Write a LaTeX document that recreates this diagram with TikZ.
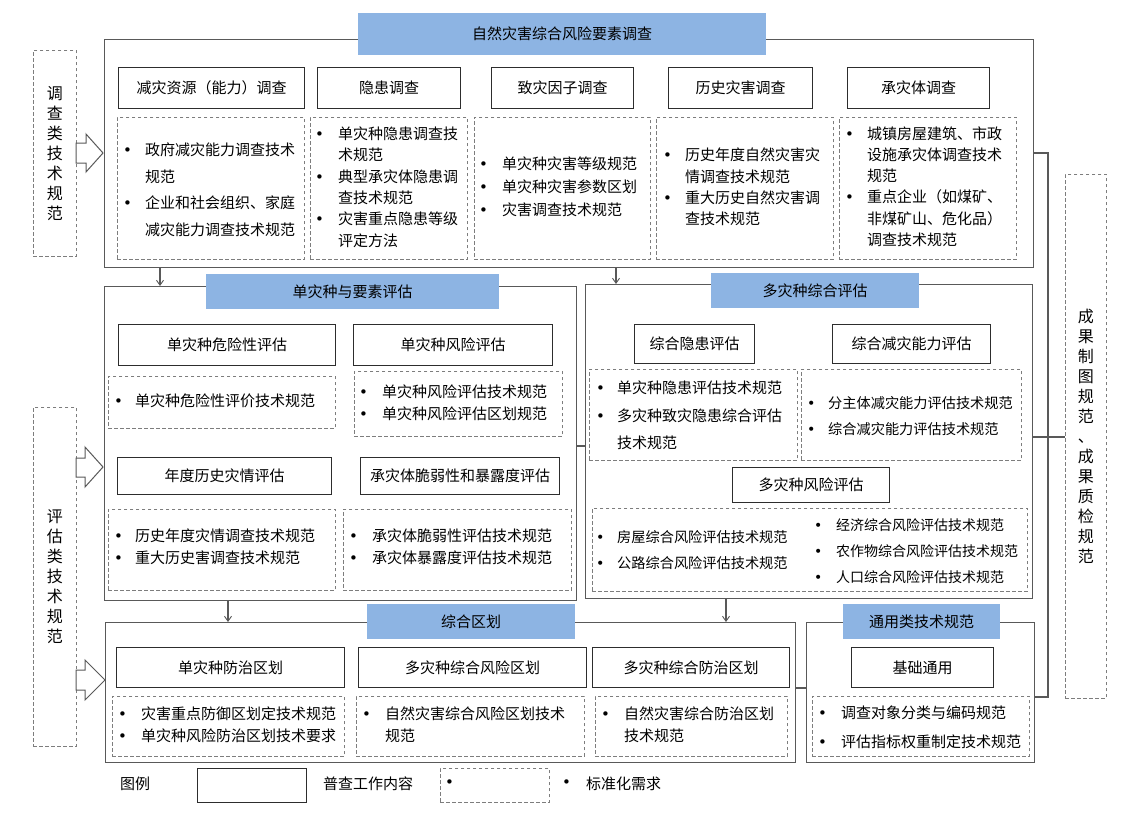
\documentclass[tikz,border=0pt]{standalone}
\usepackage{fontspec}
\setmainfont{Noto Sans CJK SC}
\newfontfamily\bulfont{DejaVu Sans}
\usetikzlibrary{arrows.meta}
\definecolor{hdrblue}{RGB}{141,180,227}
\definecolor{outerc}{RGB}{89,89,89}
\definecolor{workc}{RGB}{45,45,45}
\definecolor{stdc}{RGB}{125,125,125}
\newcommand\rbox[7]{\node[#2,anchor=north west,minimum width=#5-#3,minimum height=#6-#4] (#1) at (#3,#4) {#7};}
\newcommand\lst[7]{\node[lstn,anchor=west,font=\fontsize{#5}{#4}\selectfont] (#1) at (#2,#3) {\begin{tabular}{@{}p{#6}@{}l@{}}#7\end{tabular}};}
\newcommand\bdot{{\bulfont\char"2022}}
\newcommand\bl{\bdot&}
\tikzset{
  outer/.style={draw=outerc,line width=1.2pt,fill=white,inner sep=0pt},
  hdr/.style={fill=hdrblue,draw=none,inner sep=0pt,font=\fontsize{15}{18}\selectfont},
  work/.style={draw=workc,line width=1.2pt,fill=white,inner sep=0pt,font=\fontsize{15}{18}\selectfont},
  std/.style={draw=stdc,line width=0.9pt,dash pattern=on 3.5pt off 2.5pt,inner sep=0pt},
  side/.style={std,align=center,font=\fontsize{16}{20}\selectfont},
  lstn/.style={inner sep=0pt,align=left},
  lbl/.style={inner sep=0pt,font=\fontsize{15}{18}\selectfont},
  conn/.style={draw=outerc,line width=1.1pt},
  arr/.style={conn,-{Straight Barb[length=5pt,width=7pt,line width=0.9pt]}},
  blk/.style={draw=outerc,line width=1pt,fill=white,line join=miter}
}
\begin{document}
\begin{tikzpicture}[x=1pt,y=-1pt]
\useasboundingbox[fill=white] (0,0) rectangle (1142,820);
% coordinates for connectors
\coordinate (xa) at (160,0);
\coordinate (xb) at (616,0);
\coordinate (xc) at (228,0);
\coordinate (xd) at (726,0);
\coordinate (busT) at (1048,153);
\coordinate (busB) at (1048,697);
\coordinate (ym) at (0,437);
\coordinate (ys) at (0,446);
\coordinate (yz) at (0,688);

% ===== top section =====
\rbox{topbox}{outer}{104}{39}{1033}{267}{}
\rbox{tophdr}{hdr}{358}{13}{766}{55}{自然灾害综合风险要素调查}
\rbox{w1}{work}{118}{67}{304}{108}{减灾资源（能力）调查}
\rbox{w2}{work}{317}{67}{460}{108}{隐患调查}
\rbox{w3}{work}{491}{67}{633}{108}{致灾因子调查}
\rbox{w4}{work}{668}{67}{812}{108}{历史灾害调查}
\rbox{w5}{work}{847}{67}{989}{108}{承灾体调查}
\rbox{s1}{std}{117}{117}{304}{259}{}
\rbox{s2}{std}{310}{117}{467}{259}{}
\rbox{s3}{std}{474}{117}{650}{259}{}
\rbox{s4}{std}{656}{117}{833}{259}{}
\rbox{s5}{std}{839}{117}{1016}{259}{}
\lst{l1}{123}{190}{26.5}{15}{22pt}{\bl 政府减灾能力调查技术\\ & 规范\\ \bl 企业和社会组织、家庭\\ & 减灾能力调查技术规范}
\lst{l2}{315}{188.5}{21.4}{15}{23pt}{\bl 单灾种隐患调查技\\ & 术规范\\ \bl 典型承灾体隐患调\\ & 查技术规范\\ \bl 灾害重点隐患等级\\ & 评定方法}
\lst{l3}{479}{188}{23}{15}{23pt}{\bl 单灾种灾害等级规范\\ \bl 单灾种灾害参数区划\\ \bl 灾害调查技术规范}
\lst{l4}{663}{188.5}{21.2}{15}{22pt}{\bl 历史年度自然灾害灾\\ & 情调查技术规范\\ \bl 重大历史自然灾害调\\ & 查技术规范}
\lst{l5}{845}{188}{21.2}{15}{22pt}{\bl 城镇房屋建筑、市政\\ & 设施承灾体调查技术\\ & 规范\\ \bl 重点企业（如煤矿、\\ & 非煤矿山、危化品）\\ & 调查技术规范}

% ===== single hazard section =====
\rbox{sglbox}{outer}{104}{286}{576}{600}{}
\rbox{sglhdr}{hdr}{206}{274}{499}{309}{单灾种与要素评估}
\rbox{w6}{work}{118}{324}{335}{365}{单灾种危险性评估}
\rbox{w7}{work}{353}{324}{552}{365}{单灾种风险评估}
\rbox{s6}{std}{108}{376}{335}{428}{}
\rbox{s7}{std}{354}{371}{562}{436}{}
\rbox{w8}{work}{117}{457}{331}{494}{年度历史灾情评估}
\rbox{w9}{work}{360}{457}{559}{494}{承灾体脆弱性和暴露度评估}
\rbox{s8}{std}{108}{509}{335}{590}{}
\rbox{s9}{std}{343}{509}{571}{590}{}
\lst{l6}{114}{402}{22}{15}{21pt}{\bl 单灾种危险性评价技术规范}
\lst{l7}{359}{404}{22}{15}{23pt}{\bl 单灾种风险评估技术规范\\ \bl 单灾种风险评估区划规范}
\lst{l8}{114}{548}{22}{15}{21pt}{\bl 历史年度灾情调查技术规范\\ \bl 重大历史害调查技术规范}
\lst{l9}{349}{548}{22}{15}{23pt}{\bl 承灾体脆弱性评估技术规范\\ \bl 承灾体暴露度评估技术规范}

% ===== multi hazard section =====
\rbox{mulbox}{outer}{585}{284}{1032}{598}{}
\rbox{mulhdr}{hdr}{711}{273}{919}{308}{多灾种综合评估}
\rbox{w10}{work}{634}{324}{754}{363}{综合隐患评估}
\rbox{w11}{work}{832}{324}{990}{363}{综合减灾能力评估}
\rbox{s10}{std}{589}{369}{797}{460}{}
\rbox{s11}{std}{801}{369}{1021}{460}{}
\rbox{w12}{work}{732}{467}{889}{502}{多灾种风险评估}
\rbox{s12}{std}{592}{508}{1027}{591}{}
\lst{l10}{596}{415.5}{27.5}{15}{21pt}{\bl 单灾种隐患评估技术规范\\ \bl 多灾种致灾隐患综合评估\\ & 技术规范}
\lst{l11}{807}{416}{26}{14.2}{21pt}{\bl 分主体减灾能力评估技术规范\\ \bl 综合减灾能力评估技术规范}
\lst{l12}{596}{550}{26}{14.2}{21pt}{\bl 房屋综合风险评估技术规范\\ \bl 公路综合风险评估技术规范}
\lst{l13}{814}{551}{26}{14}{22pt}{\bl 经济综合风险评估技术规范\\ \bl 农作物综合风险评估技术规范\\ \bl 人口综合风险评估技术规范}

% ===== zoning section =====
\rbox{zonebox}{outer}{105}{622}{795}{762}{}
\rbox{zonehdr}{hdr}{367}{604}{575}{639}{综合区划}
\rbox{w13}{work}{116}{647}{344}{687}{单灾种防治区划}
\rbox{w14}{work}{358}{647}{586}{687}{多灾种综合风险区划}
\rbox{w15}{work}{592}{647}{789}{687}{多灾种综合防治区划}
\rbox{s13}{std}{112}{696}{344}{756}{}
\rbox{s14}{std}{356}{696}{584}{756}{}
\rbox{s15}{std}{595}{696}{787}{756}{}
\lst{l14}{118}{726}{22}{15}{23pt}{\bl 灾害重点防御区划定技术规范\\ \bl 单灾种风险防治区划技术要求}
\lst{l15}{362}{726}{22}{15}{23pt}{\bl 自然灾害综合风险区划技术\\ & 规范}
\lst{l16}{601}{726}{22}{15}{23pt}{\bl 自然灾害综合防治区划\\ & 技术规范}

% ===== general section =====
\rbox{genbox}{outer}{806}{622}{1034}{762}{}
\rbox{genhdr}{hdr}{843}{604}{1000}{639}{通用类技术规范}
\rbox{w16}{work}{851}{647}{993}{687}{基础通用}
\rbox{s16}{std}{812}{696}{1029}{756}{}
\lst{l17}{818}{727.5}{29}{15}{23pt}{\bl 调查对象分类与编码规范\\ \bl 评估指标权重制定技术规范}

% ===== side boxes =====
\rbox{sideA}{side}{33}{50}{76}{256}{调\\查\\类\\技\\术\\规\\范}
\rbox{sideB}{side}{33}{407}{76}{746}{评\\估\\类\\技\\术\\规\\范}
\rbox{sideC}{side}{1065}{174}{1106}{698}{成\\果\\制\\图\\规\\范\\、\\成\\果\\质\\检\\规\\范}

% ===== block arrows =====
\draw[blk] (76,143) -- (86,143) -- (86,134) -- (103,153) -- (86,172) -- (86,163) -- (76,163) -- cycle;
\draw[blk] (76,458) -- (85,458) -- (85,447) -- (103,467) -- (85,487) -- (85,477) -- (76,477) -- cycle;
\draw[blk] (76,670) -- (85,670) -- (85,660) -- (105,680) -- (85,700) -- (85,690) -- (76,690) -- cycle;

% ===== connectors =====
\draw[arr] (topbox.south -| xa) -- (sglbox.north -| xa);
\draw[arr] (topbox.south -| xb) -- (mulbox.north -| xb);
\draw[arr] (sglbox.south -| xc) -- (zonebox.north -| xc);
\draw[arr] (mulbox.south -| xd) -- (zonebox.north -| xd);
\draw[conn] (sglbox.east |- ys) -- (mulbox.west |- ys);
\draw[conn] (zonebox.east |- yz) -- (genbox.west |- yz);
\draw[conn] (topbox.east |- busT) -- (busT) -- (busB) -- (genbox.east |- busB);
\draw[conn] (mulbox.east |- ym) -- (sideC.west |- ym);

% ===== legend =====
\node[lbl] (lg0) at (135,784) {图例};
\rbox{lg1}{work}{197}{768}{306}{802}{}
\node[lbl] (lg2) at (368,784) {普查工作内容};
\rbox{lg3}{std}{440}{768}{549}{802}{}
\node[lbl,anchor=west] (lg4) at (445,784) {\bdot};
\node[lbl,anchor=west] (lg5) at (562,784) {\bdot};
\node[lbl,anchor=west] (lg6) at (586,784) {标准化需求};
\end{tikzpicture}
\end{document}
